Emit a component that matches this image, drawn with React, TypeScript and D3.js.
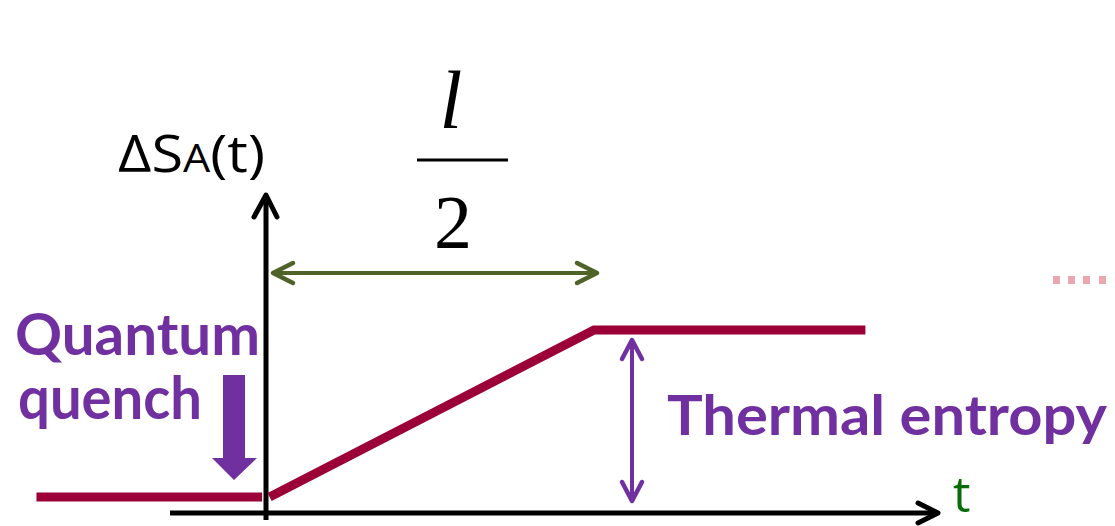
import React from "react";
import * as d3 from "d3";

// Schematic entanglement-entropy growth after a quantum quench
const phases = ["before quench", "quench", "saturation (t = l/2)", "late time"];
const timeBefore = [-0.705, -0.015];
const entropyBefore = [0, 0];
const timeAfter = [0.008, 1, 1.83];
const entropyAfter = [0, 1, 1];
const axisLabels = { y: "ΔS", ySub: "A", yTail: "(t)", x: "t" };
const annotations = ["Quantum", "quench", "Thermal entropy"];

const W = 1115;
const H = 526;

const RED = "#9b0037";
const PURPLE = "#7030a0";
const OLIVE = "#4f6228";
const GREEN = "#0a6b0a";
const SANS = "'Open Sans', 'DejaVu Sans', sans-serif";
const BOLD = "Lato, 'Open Sans', sans-serif";

export default function App() {
  const x = d3.scaleLinear().domain([0, 1]).range([267, 594]);
  const y = d3.scaleLinear().domain([0, 1]).range([497, 330]);
  const line = d3
    .line<[number, number]>()
    .x((d) => x(d[0]))
    .y((d) => y(d[1]));
  const before = timeBefore.map((t, i) => [t, entropyBefore[i]] as [number, number]);
  const after = timeAfter.map((t, i) => [t, entropyAfter[i]] as [number, number]);

  const x0 = x(0) - 1; // y-axis position
  const xAxisY = 513;
  const arrowX = 632;

  return (
    <svg
      width={W}
      height={H}
      style={{ position: "absolute", left: 0, top: 0, background: "#fff" }}
    >
      {/* y axis */}
      <line x1={x0} y1={520} x2={x0} y2={196} stroke="#000" strokeWidth={5} />
      <polyline
        points={`${x0 - 12},${217} ${x0},${195} ${x0 + 11},${217}`}
        fill="none"
        stroke="#000"
        strokeWidth={5}
        strokeLinecap="round"
        strokeLinejoin="round"
      />
      {/* x axis */}
      <line x1={170} y1={xAxisY} x2={937} y2={xAxisY} stroke="#000" strokeWidth={5} />
      <polyline
        points={`${918},${503} ${938},${xAxisY} ${918},${523}`}
        fill="none"
        stroke="#000"
        strokeWidth={5}
        strokeLinecap="round"
        strokeLinejoin="round"
      />

      {/* entropy curve */}
      <path d={line(before) || ""} fill="none" stroke={RED} strokeWidth={9} />
      <path d={line(after) || ""} fill="none" stroke={RED} strokeWidth={9} />

      {/* olive double arrow: 0 .. l/2 */}
      <line x1={x(0) + 6} y1={273} x2={x(1) + 3} y2={273} stroke={OLIVE} strokeWidth={4} />
      <polyline
        points={`${x(0) + 26},${263} ${x(0) + 6},${273} ${x(0) + 26},${283}`}
        fill="none"
        stroke={OLIVE}
        strokeWidth={4.5}
        strokeLinecap="round"
        strokeLinejoin="round"
      />
      <polyline
        points={`${x(1) - 17},${263} ${x(1) + 3},${273} ${x(1) - 17},${283}`}
        fill="none"
        stroke={OLIVE}
        strokeWidth={4.5}
        strokeLinecap="round"
        strokeLinejoin="round"
      />

      {/* fraction l/2 */}
      <text
        x={451}
        y={128}
        textAnchor="middle"
        fontFamily="'Liberation Serif', 'Times New Roman', serif"
        fontStyle="italic"
        fontSize={82}
      >
        l
      </text>
      <line x1={417} y1={160} x2={508} y2={160} stroke="#000" strokeWidth={3} />
      <text
        x={453}
        y={248}
        textAnchor="middle"
        fontFamily="'Liberation Serif', 'Times New Roman', serif"
        fontSize={76}
      >
        2
      </text>

      {/* y label */}
      <text x={118} y={172} fontFamily={SANS} fontSize={51} fill="#000" textLength={147} lengthAdjust="spacingAndGlyphs">
        {axisLabels.y}
        <tspan fontSize={38}>{axisLabels.ySub}</tspan>
        {axisLabels.yTail}
      </text>

      {/* x label */}
      <text x={953} y={512} fontFamily={SANS} fontSize={49} fill={GREEN}>
        {axisLabels.x}
      </text>

      {/* purple thermal-entropy double arrow */}
      <line x1={arrowX} y1={341} x2={arrowX} y2={500} stroke={PURPLE} strokeWidth={4} />
      <polyline
        points={`${arrowX - 10},${359} ${arrowX},${340} ${arrowX + 10},${359}`}
        fill="none"
        stroke={PURPLE}
        strokeWidth={4.5}
        strokeLinecap="round"
        strokeLinejoin="round"
      />
      <polyline
        points={`${arrowX - 10},${482} ${arrowX},${501} ${arrowX + 10},${482}`}
        fill="none"
        stroke={PURPLE}
        strokeWidth={4.5}
        strokeLinecap="round"
        strokeLinejoin="round"
      />

      {/* annotations */}
      <text x={15} y={355} fontFamily={BOLD} fontWeight="bold" fontSize={58} fill={PURPLE} textLength={245} lengthAdjust="spacingAndGlyphs">
        {annotations[0]}
      </text>
      <text x={18} y={419} fontFamily={BOLD} fontWeight="bold" fontSize={60} fill={PURPLE} textLength={184} lengthAdjust="spacingAndGlyphs">
        {annotations[1]}
      </text>
      <text x={667} y={435} fontFamily={BOLD} fontWeight="bold" fontSize={55} fill={PURPLE} textLength={440} lengthAdjust="spacingAndGlyphs">
        {annotations[2]}
      </text>

      {/* big quench arrow */}
      <path
        d={`M223,375 L245,375 L245,458 L257,458 L234,480 L212,458 L223,458 Z`}
        fill={PURPLE}
      />

      {/* faint red marks at right */}
      {[1053, 1068, 1083, 1099].map((mx) => (
        <rect key={mx} x={mx} y={276} width={7} height={8} fill="#e06a78" opacity={0.6} />
      ))}
      <title>{phases.join(", ")}</title>
    </svg>
  );
}
